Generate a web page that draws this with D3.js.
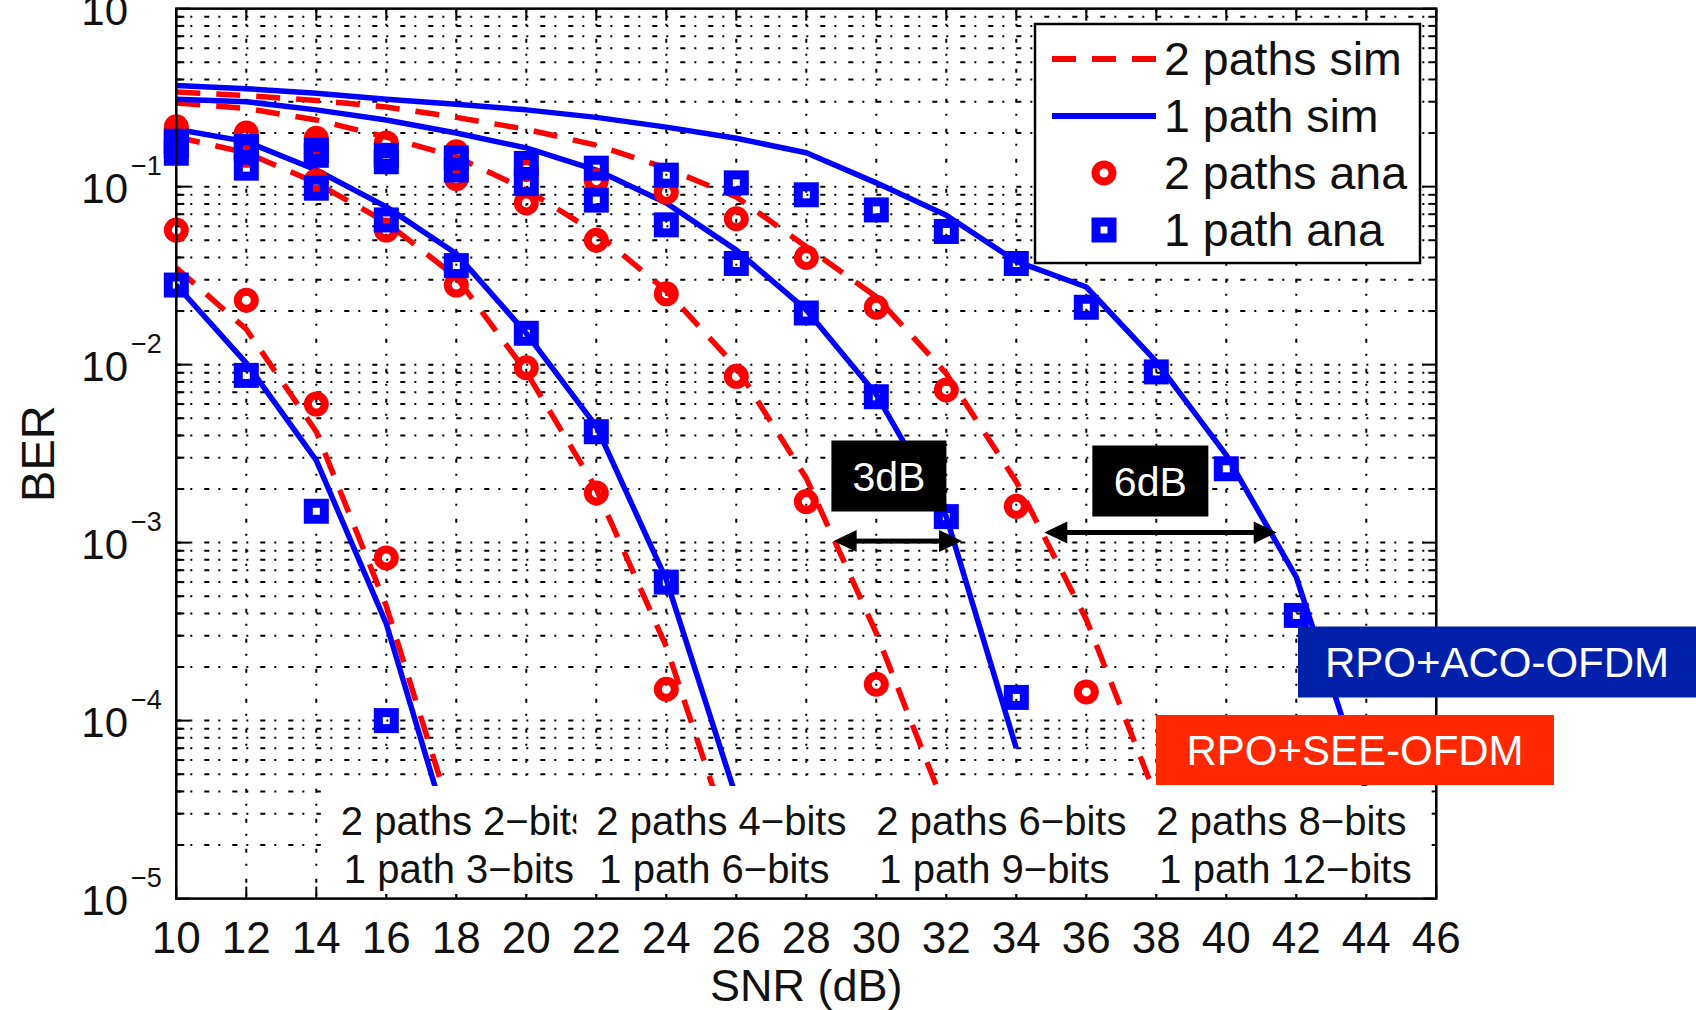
<!DOCTYPE html>
<html>
<head>
<meta charset="utf-8">
<script src="https://cdn.jsdelivr.net/npm/d3@7"></script>
<style>
    body { margin: 0; background: #fff; }
    svg { display: block; }
    text { font-family: "Liberation Sans", Arial, Helvetica, sans-serif; }
</style>
</head>
<body>
<svg width="1696" height="1010"></svg>
<script>
// SNR axis (dB)
const snrDb = [10, 12, 14, 16, 18, 20, 22, 24, 26, 28, 30, 32, 34, 36, 38, 40, 42, 44, 46];
const snrTicks = [10, 12, 14, 16, 18, 20, 22, 24, 26, 28, 30, 32, 34, 36, 38, 40, 42, 44, 46];
const berDecades = [0, -1, -2, -3, -4, -5];

// 2 paths 2-bits / 1 path 3-bits
const sim2Paths2Bits = [0.035, 0.0158, 0.0042, 4.4e-4, 2.4e-5];
const sim1Path3Bits  = [0.028, 0.0102, 0.0029, 3.5e-4, 1.7e-5];
const ana2Paths2Bits = [0.057, 0.023, 0.006, 8.2e-4];
const ana1Path3Bits  = [0.028, 0.0087, 0.0015, 1.0e-4];

// 2 paths 4-bits / 1 path 6-bits
const sim2Paths4Bits = [0.19, 0.155, 0.105, 0.063, 0.031, 0.0091, 0.002, 2.6e-4, 1.7e-5];
const sim1Path6Bits  = [0.21, 0.179, 0.124, 0.077, 0.042, 0.015, 0.0045, 6.2e-4, 3.7e-5];
const ana2Paths4Bits = [0.2, 0.15, 0.108, 0.057, 0.028, 0.0096, 0.0019, 1.5e-4];
const ana1Path6Bits  = [0.154, 0.127, 0.098, 0.065, 0.036, 0.015, 0.0042, 6.0e-4];

// 2 paths 6-bits / 1 path 9-bits
const sim2Paths6Bits = [0.295, 0.275, 0.237, 0.19, 0.147, 0.096, 0.055, 0.026, 0.0097, 0.0023, 3.1e-4, 3.1e-5];
const sim1Path9Bits  = [0.31, 0.30, 0.27, 0.237, 0.20, 0.165, 0.124, 0.081, 0.044, 0.0203, 0.0068, 0.0014, 7.0e-5];
const ana2Paths6Bits = [0.21, 0.19, 0.17, 0.14, 0.111, 0.081, 0.050, 0.025, 0.0086, 0.0017, 1.6e-4];
const ana1Path9Bits  = [0.17, 0.163, 0.15, 0.138, 0.124, 0.104, 0.084, 0.061, 0.037, 0.0195, 0.0066, 0.0014, 1.35e-4];

// 2 paths 8-bits / 1 path 12-bits
const sim2Paths8Bits = [0.34, 0.325, 0.305, 0.28, 0.245, 0.21, 0.171, 0.127, 0.0875, 0.046, 0.024, 0.0089, 0.0022, 3.7e-4, 3.7e-5];
const sim1Path12Bits = [0.37, 0.355, 0.335, 0.31, 0.29, 0.27, 0.245, 0.216, 0.187, 0.155, 0.105, 0.069, 0.038, 0.0273, 0.0104, 0.0031, 6.4e-4, 4.0e-5];
const ana2Paths8Bits = [0.217, 0.2, 0.187, 0.176, 0.157, 0.125, 0.108, 0.093, 0.066, 0.040, 0.021, 0.0072, 0.0016, 1.45e-4];
const ana1Path12Bits = [0.18, 0.168, 0.16, 0.15, 0.145, 0.135, 0.127, 0.116, 0.105, 0.090, 0.074, 0.056, 0.037, 0.021, 0.0091, 0.0026, 3.9e-4];

const legendLabels = ["2 paths sim", "1 path sim", "2 paths ana", "1 path ana"];
const noteLine1 = ["2 paths 2\u2212bits", "2 paths 4\u2212bits", "2 paths 6\u2212bits", "2 paths 8\u2212bits"];
const noteLine2 = ["1 path 3\u2212bits", "1 path 6\u2212bits", "1 path 9\u2212bits", "1 path 12\u2212bits"];

const RED = "#ff0000";
const BLUE = "#0000ff";

const svg = d3.select("svg");
svg.append("rect").attr("width", 1696).attr("height", 1010).attr("fill", "#fff");

const area = { left: 176.3, right: 1436.3, top: 8.65, bottom: 898.6 };

const x = d3.scaleLinear().domain([10, 46]).range([area.left, area.right]);
const y = d3.scaleLog().domain([1e-5, 1]).range([area.bottom, area.top]);

svg.append("clipPath").attr("id", "plotClip")
    .append("rect")
    .attr("x", area.left).attr("y", area.top)
    .attr("width", area.right - area.left).attr("height", area.bottom - area.top);

// grid
const minorValues = d3.range(-5, 0).flatMap(k => d3.range(1, 10).map(m => m * Math.pow(10, k)))
    .filter(v => v > 1.0001e-5);

const grid = svg.append("g");
grid.selectAll("line.h")
    .data(minorValues)
    .enter()
    .append("line")
    .attr("x1", area.left).attr("x2", area.right)
    .attr("y1", d => y(d)).attr("y2", d => y(d))
    .attr("stroke", "#000").attr("stroke-width", 2)
    .attr("stroke-dasharray", "5,9,2,12");

grid.selectAll("line.v")
    .data(snrTicks.slice(1, -1))
    .enter()
    .append("line")
    .attr("x1", d => x(d)).attr("x2", d => x(d))
    .attr("y1", area.top).attr("y2", area.bottom)
    .attr("stroke", "#000").attr("stroke-width", 2)
    .attr("stroke-dasharray", "4,11,2,13");

// ticks (inside, MATLAB style)
const ticks = svg.append("g").attr("stroke", "#000").attr("stroke-width", 2);
snrTicks.forEach(t => {
    ticks.append("line").attr("x1", x(t)).attr("x2", x(t)).attr("y1", area.bottom).attr("y2", area.bottom - 12);
    ticks.append("line").attr("x1", x(t)).attr("x2", x(t)).attr("y1", area.top).attr("y2", area.top + 12);
});
minorValues.concat([1e-5, 1]).forEach(v => {
    const major = Math.abs(Math.log10(v) - Math.round(Math.log10(v))) < 1e-6;
    const len = major ? 14 : 8;
    ticks.append("line").attr("x1", area.left).attr("x2", area.left + len).attr("y1", y(v)).attr("y2", y(v));
    ticks.append("line").attr("x1", area.right).attr("x2", area.right - len).attr("y1", y(v)).attr("y2", y(v));
});

// curves
const groups = [
    { sim2: sim2Paths2Bits, sim1: sim1Path3Bits, ana2: ana2Paths2Bits, ana1: ana1Path3Bits },
    { sim2: sim2Paths4Bits, sim1: sim1Path6Bits, ana2: ana2Paths4Bits, ana1: ana1Path6Bits },
    { sim2: sim2Paths6Bits, sim1: sim1Path9Bits, ana2: ana2Paths6Bits, ana1: ana1Path9Bits },
    { sim2: sim2Paths8Bits, sim1: sim1Path12Bits, ana2: ana2Paths8Bits, ana1: ana1Path12Bits }
];

const toPoints = arr => arr.map((v, i) => ({ snr: snrDb[i], ber: v }));

const line = d3.line()
    .x(d => x(d.snr))
    .y(d => y(d.ber));

const curves = svg.append("g").attr("clip-path", "url(#plotClip)");
groups.forEach(g => {
    curves.append("path")
        .attr("d", line(toPoints(g.sim2)))
        .attr("fill", "none").attr("stroke", RED).attr("stroke-width", 5.5)
        .attr("stroke-dasharray", "24,16");
    curves.append("path")
        .attr("d", line(toPoints(g.sim1)))
        .attr("fill", "none").attr("stroke", BLUE).attr("stroke-width", 5.5)
        .attr("stroke-linejoin", "round");
});

const marks = svg.append("g");
groups.forEach(g => {
    marks.append("g")
        .selectAll("circle")
        .data(toPoints(g.ana2))
        .enter()
        .append("circle")
        .attr("cx", d => x(d.snr))
        .attr("cy", d => y(d.ber))
        .attr("r", 8.5)
        .attr("fill", "none").attr("stroke", RED).attr("stroke-width", 8);
});
groups.forEach(g => {
    marks.append("g")
        .selectAll("rect")
        .data(toPoints(g.ana1))
        .enter()
        .append("rect")
        .attr("x", d => x(d.snr) - 8)
        .attr("y", d => y(d.ber) - 8)
        .attr("width", 16).attr("height", 16)
        .attr("fill", "none").attr("stroke", BLUE).attr("stroke-width", 9);
});

// bit-loading notes with white background
const noteSnr = [14.7, 22, 30, 38];
const notes = svg.append("g");
noteSnr.forEach((s, i) => {
    const tx = x(s);
    const box = notes.append("rect").attr("fill", "#fff");
    const t1 = notes.append("text").attr("x", tx).attr("y", 835)
        .attr("font-size", 40).attr("fill", "#111").text(noteLine1[i]);
    const t2 = notes.append("text").attr("x", tx + 3).attr("y", 883)
        .attr("font-size", 40).attr("fill", "#111").text(noteLine2[i]);
    const w = Math.max(t1.node().getComputedTextLength(), t2.node().getComputedTextLength() + 3);
    box.attr("x", tx - 20).attr("y", 786).attr("width", w + 40).attr("height", 108);
});

// frame
svg.append("rect")
    .attr("x", area.left).attr("y", area.top)
    .attr("width", area.right - area.left).attr("height", area.bottom - area.top)
    .attr("fill", "none").attr("stroke", "#000").attr("stroke-width", 2.5);

// tick labels
svg.append("g")
    .selectAll("text")
    .data(snrTicks)
    .enter()
    .append("text")
    .attr("x", d => x(d))
    .attr("y", 953)
    .attr("text-anchor", "middle")
    .attr("font-size", 44)
    .attr("fill", "#111")
    .text(d => d);

const yLabels = svg.append("g").attr("fill", "#111");
berDecades.forEach(k => {
    const yy = y(Math.pow(10, k));
    yLabels.append("text").attr("x", 128).attr("y", yy + 16)
        .attr("text-anchor", "end").attr("font-size", 42).text("10");
    yLabels.append("text").attr("x", 131).attr("y", yy - 12)
        .attr("font-size", 27).text(k === 0 ? "0" : "\u2212" + (-k));
});

svg.append("text")
    .attr("x", (area.left + area.right) / 2).attr("y", 1001)
    .attr("text-anchor", "middle").attr("font-size", 45).attr("fill", "#111")
    .text("SNR (dB)");

svg.append("text")
    .attr("transform", `translate(54, ${(area.top + area.bottom) / 2}) rotate(-90)`)
    .attr("text-anchor", "middle").attr("font-size", 47).attr("fill", "#111")
    .text("BER");

// legend
const legend = svg.append("g");
legend.append("rect")
    .attr("x", 1035).attr("y", 24).attr("width", 385).attr("height", 239)
    .attr("fill", "#fff").attr("stroke", "#000").attr("stroke-width", 2.5);
const rowY = [59, 116, 173, 230];
legend.append("line").attr("x1", 1052).attr("x2", 1156).attr("y1", rowY[0]).attr("y2", rowY[0])
    .attr("stroke", RED).attr("stroke-width", 6).attr("stroke-dasharray", "24,16");
legend.append("line").attr("x1", 1052).attr("x2", 1156).attr("y1", rowY[1]).attr("y2", rowY[1])
    .attr("stroke", BLUE).attr("stroke-width", 6);
legend.append("circle").attr("cx", 1104).attr("cy", rowY[2]).attr("r", 8.5)
    .attr("fill", "none").attr("stroke", RED).attr("stroke-width", 8);
legend.append("rect").attr("x", 1104 - 8).attr("y", rowY[3] - 8).attr("width", 16).attr("height", 16)
    .attr("fill", "none").attr("stroke", BLUE).attr("stroke-width", 9);
legend.selectAll("text")
    .data(legendLabels)
    .enter()
    .append("text")
    .attr("x", 1164)
    .attr("y", (d, i) => rowY[i] + 16)
    .attr("font-size", 46.5)
    .attr("fill", "#111")
    .text(d => d);

// 3dB / 6dB gap annotations
const drawArrow = (x1, x2, yy) => {
    const len = 23, half = 11;
    const g = svg.append("g").attr("fill", "#000");
    g.append("rect").attr("x", x1 + len - 2).attr("y", yy - 2.5)
        .attr("width", x2 - x1 - 2 * len + 4).attr("height", 5);
    g.append("path").attr("d", `M${x1},${yy} L${x1 + len},${yy - half} L${x1 + len},${yy + half} Z`);
    g.append("path").attr("d", `M${x2},${yy} L${x2 - len},${yy - half} L${x2 - len},${yy + half} Z`);
};
drawArrow(x(28.78), x(32.45), y(1.02e-3));
drawArrow(x(34.8), x(41.44), y(1.14e-3));

const labelBox = (cx, cy, w, h, fill, label, size) => {
    svg.append("rect").attr("x", cx - w / 2).attr("y", cy - h / 2).attr("width", w).attr("height", h).attr("fill", fill);
    svg.append("text").attr("x", cx).attr("y", cy + size * 0.36)
        .attr("text-anchor", "middle").attr("font-size", size).attr("fill", "#fff").text(label);
};
labelBox(x(30.36), 476, 115, 71, "#000", "3dB", 41);
labelBox(x(37.83), 481, 116, 71, "#000", "6dB", 41);
labelBox(1497, 662, 398, 71, "#0020aa", "RPO+ACO-OFDM", 42);
labelBox(1355, 750, 398, 70, "#ff2800", "RPO+SEE-OFDM", 42);
</script>
</body>
</html>
